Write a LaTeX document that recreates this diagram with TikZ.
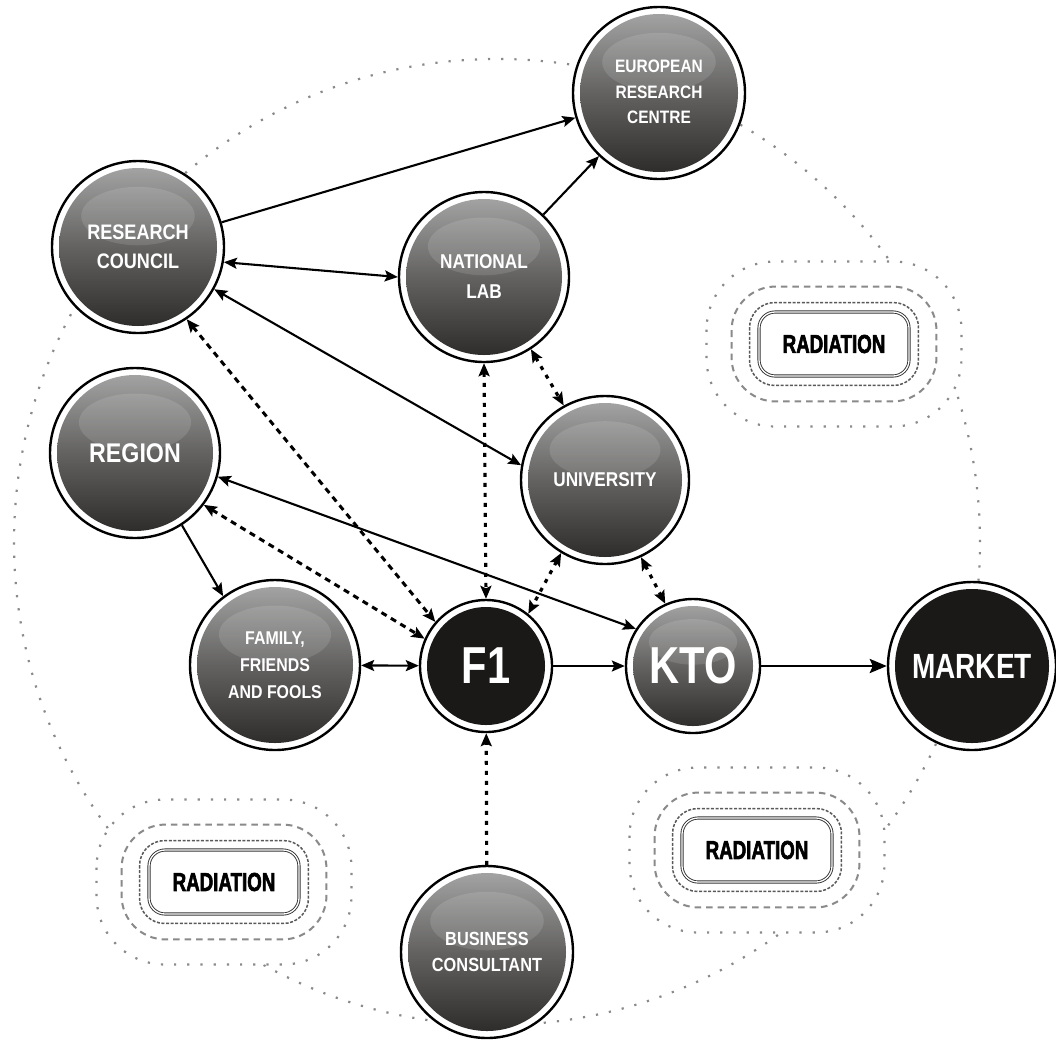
\documentclass[tikz,border=0pt]{standalone}
\usepackage{fontspec}
\usetikzlibrary{arrows.meta,calc,backgrounds}
\newfontfamily\lblfont{Liberation Sans}[FakeStretch=0.86]
\newfontfamily\bigfnt{Liberation Sans}[FakeStretch=0.8]
\newfontfamily\radfnt{Liberation Sans}[FakeStretch=0.72,FakeBold=2.2]
\definecolor{balltop}{HTML}{A8A8A8}
\definecolor{ballmid}{HTML}{636261}
\definecolor{ballbot}{HTML}{2A2827}
\definecolor{ballblack}{HTML}{1B1818}
\definecolor{dotgray}{HTML}{8A8A8A}
\newcommand\lblsize[2]{\lblfont\bfseries\fontsize{#1}{#2}\selectfont}
\tikzset{
  ballbase/.style={circle, draw=black, line width=2.4pt, fill=white,
    minimum size=2*#1, inner sep=0pt, text=white, align=center},
  ball/.style={ballbase=#1, path picture={
    \shade[top color=balltop, bottom color=ballbot, middle color=ballmid]
      (path picture bounding box.center) circle (#1-7pt);
    \fill[white, opacity=.12] ([yshift=0.36*#1]path picture bounding box.center)
      ellipse ({0.66*#1} and {0.34*#1});}},
  blackball/.style={ballbase=#1, path picture={
    \fill[ballblack] (path picture bounding box.center) circle (#1-7pt);}},
  radbox/.style={rectangle, rounded corners=16pt, draw=black!80, line width=0.9pt,
    double=white, double distance=1.3pt, minimum width=150pt, minimum height=64pt,
    fill=white, font=\radfnt\bfseries\fontsize{26}{30}\selectfont, text=black},
  dotring/.style={draw=dotgray, line width=2.2pt, dash pattern=on 2.2pt off 11pt},
  meddash/.style={draw=dotgray, line width=2pt, dash pattern=on 6.5pt off 5pt},
  finedash/.style={draw=black!65, line width=1.5pt, dash pattern=on 3pt off 1.6pt},
  conn/.style={draw=black, line width=2.1pt},
  dconn/.style={draw=black, line width=3pt, dash pattern=on 6pt off 5pt},
  pconn/.style={draw=black, line width=3.2pt, dash pattern=on 4pt off 6pt},
  thickconn/.style={draw=black, line width=2.8pt,
    >={Stealth[length=17pt,width=14pt,inset=3pt]}},
  >={Stealth[length=13pt,width=11pt,inset=2.5pt]}
}
\newcommand\radrings[1]{%
  \draw[dotring, fill=white, rounded corners=68pt]
    ([shift={(-52,-50)}]#1.north west) rectangle ([shift={(52,50)}]#1.south east);
  \draw[meddash, rounded corners=44pt]
    ([shift={(-27,-25)}]#1.north west) rectangle ([shift={(27,25)}]#1.south east);
  \draw[finedash, rounded corners=25pt]
    ([shift={(-9,-9)}]#1.north west) rectangle ([shift={(9,9)}]#1.south east);
}
\begin{document}
\begin{tikzpicture}[x=1pt,y=-1pt]
\useasboundingbox (0,0) rectangle (1056,1039);

% radiation boxes
\node[radbox] (rad1) at (834,344) {RADIATION};
\node[radbox] (rad2) at (757,850) {RADIATION};
\node[radbox] (rad3) at (224,882) {RADIATION};

\begin{pgfonlayer}{background}
  \coordinate (ctr) at (497,542);
  \draw[dotring] (ctr) circle (483pt);
  \radrings{rad1}
  \radrings{rad2}
  \radrings{rad3}
\end{pgfonlayer}

% nodes
\node[ball=86pt, font=\lblsize{18}{25.5}] (erc) at (659,93)
  {\raisebox{-5pt}{\begin{tabular}{@{}c@{}}EUROPEAN\\RESEARCH\\CENTRE\end{tabular}}};
\node[ball=86pt, font=\lblsize{21}{29}] (rc) at (138,247) {RESEARCH\\COUNCIL};
\node[ball=85pt, font=\lblsize{20}{30}] (nl) at (484,277) {NATIONAL\\LAB};
\node[ball=85pt, font=\lblsize{27}{30}] (reg) at (135,453) {REGION};
\node[ball=84pt, font=\lblsize{20}{24}] (uni) at (605,480) {UNIVERSITY};
\node[ball=85pt, font=\lblsize{18.5}{27}] (fff) at (275,665) {FAMILY,\\FRIENDS\\AND FOOLS};
\node[blackball=66pt, font=\bigfnt\bfseries\fontsize{52}{56}\selectfont] (f1) at (486,666) {F1};
\node[ball=67pt, font=\bigfnt\bfseries\fontsize{52}{56}\selectfont] (kto) at (693,666) {KTO};
\node[blackball=84pt, font=\bigfnt\bfseries\fontsize{35}{40}\selectfont] (mkt) at (972,666) {MARKET};
\node[ball=86pt, font=\lblsize{19}{26}] (bc) at (487,952) {BUSINESS\\CONSULTANT};

% connectors
\draw[conn,->] (rc) -- (erc);
\draw[conn,->] (nl) -- (erc);
\draw[conn,<->] (rc.-10) -- (nl.180);
\draw[conn,<->] (rc.-29) -- (uni.170);
\draw[dconn,<->] (rc.-56) -- (f1.139);
\draw[dconn,<->] (reg.-37) -- (f1.156);
\draw[conn,<->] (reg.-16) -- (kto.147);
\draw[conn,->] (reg.-57) -- (fff.127);
\draw[conn,<->] (fff) -- (f1);
\draw[conn,->] (f1) -- (kto);
\draw[thickconn,->] (kto) -- (mkt);
\draw[pconn,<->] (nl.south) -- (f1.north);
\draw[pconn,<->] (nl.-57) -- (uni.119);
\draw[pconn,<->] (uni.-121) -- (f1.51);
\draw[pconn,<->] (uni.-65) -- (kto.114);
\draw[pconn,->] (bc) -- (f1);
\end{tikzpicture}
\end{document}
